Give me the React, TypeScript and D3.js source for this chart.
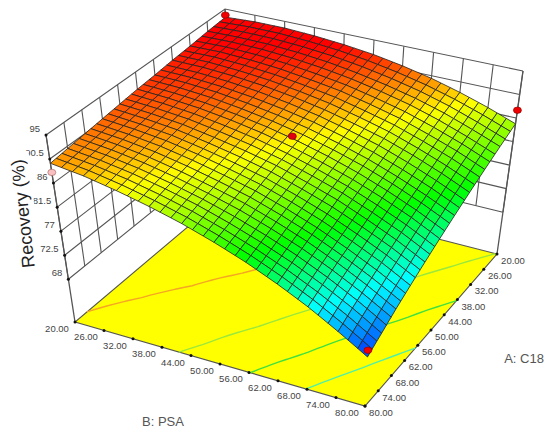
import React, { useEffect, useRef } from "react";
import * as d3 from "d3";

// axis ticks
const aTicks = [20, 26, 32, 38, 44, 50, 56, 62, 68, 74, 80];
const bTicks = [20, 26, 32, 38, 44, 50, 56, 62, 68, 74, 80];
const zTicks = [95, 90.5, 86, 81.5, 77, 72.5, 68];
const contourLevels = [75, 80, 85, 90];
const contourColors = ["#4ff0a8", "#3fe03f", "#9be83c", "#f5a623"];

// recovery, one row per A tick, one column per B tick
const recoveryA20 = [93.4, 93.7, 93.7, 93.4, 92.9, 92.2, 91.2, 90.0, 88.5, 86.8, 84.9];
const recoveryA26 = [93.1, 93.2, 93.1, 92.7, 92.1, 91.2, 90.1, 88.8, 87.2, 85.3, 83.3];
const recoveryA32 = [92.7, 92.8, 92.5, 92.0, 91.2, 90.3, 89.0, 87.6, 85.8, 83.9, 81.7];
const recoveryA38 = [92.4, 92.3, 91.9, 91.3, 90.4, 89.3, 87.9, 86.4, 84.5, 82.4, 80.1];
const recoveryA44 = [92.0, 91.8, 91.3, 90.5, 89.5, 88.3, 86.8, 85.1, 83.1, 80.9, 78.5];
const recoveryA50 = [91.7, 91.3, 90.7, 89.8, 88.7, 87.3, 85.7, 83.9, 81.8, 79.5, 76.9];
const recoveryA56 = [91.3, 90.8, 90.1, 89.0, 87.8, 86.4, 84.6, 82.7, 80.4, 78.0, 75.3];
const recoveryA62 = [90.9, 90.3, 89.5, 88.3, 86.9, 85.4, 83.5, 81.4, 79.0, 76.5, 73.7];
const recoveryA68 = [90.5, 89.8, 88.8, 87.5, 86.0, 84.4, 82.4, 80.2, 77.7, 75.0, 72.1];
const recoveryA74 = [90.1, 89.3, 88.2, 86.8, 85.2, 83.3, 81.2, 78.9, 76.3, 73.5, 70.4];
const recoveryA80 = [89.7, 88.8, 87.5, 86.0, 84.3, 82.3, 80.1, 77.6, 74.9, 71.9, 68.8];
const recoveryRows = [
  recoveryA20, recoveryA26, recoveryA32, recoveryA38, recoveryA44, recoveryA50,
  recoveryA56, recoveryA62, recoveryA68, recoveryA74, recoveryA80,
];

// design points
const pointB = [20, 20, 80, 80, 50];
const pointA = [20, 80, 20, 80, 50];
const pointZ = [93.8, 88, 87.5, 70, 89.4];
const pointFill = ["#f00000", "#f8c0c0", "#f00000", "#f00000", "#e00010"];

const width = 550;
const height = 434;
const zFloor = 60;
const zTop = 95;
const subCells = 3; // mesh cells per tick interval

// screen position of the box corners, [B, A] = 20/80
const floorBox = { b20a20: [235, 187], b80a20: [497, 254], b80a80: [365, 406], b20a80: [75, 322] };
const topBox = { b20a20: [225, 9], b80a20: [523, 71], b80a80: [375, 211], b20a80: [46, 135] };

const uScale = d3.scaleLinear().domain([20, 80]).range([0, 1]);
const vScale = d3.scaleLinear().domain([20, 80]).range([0, 1]);
const wScale = d3.scaleLinear().domain([zFloor, zTop]).range([0, 1]);

const colorScale = d3
  .scaleLinear<string>()
  .domain([69.5, 74.5, 80.5, 87.5, 93])
  .range(["#0050ff", "#00ffff", "#00ff00", "#ffff00", "#ff0000"]);

const bilinear = (box: any, u: number, v: number, k: number) =>
  (1 - v) * ((1 - u) * box.b20a20[k] + u * box.b80a20[k]) +
  v * ((1 - u) * box.b20a80[k] + u * box.b80a80[k]);

const project = (b: number, a: number, z: number): [number, number] => {
  const u = uScale(b);
  const v = vScale(a);
  const w = wScale(z);
  return [
    bilinear(floorBox, u, v, 0) * (1 - w) + bilinear(topBox, u, v, 0) * w,
    bilinear(floorBox, u, v, 1) * (1 - w) + bilinear(topBox, u, v, 1) * w,
  ];
};

const rowScales = recoveryRows.map((row) => d3.scaleLinear().domain(bTicks).range(row));
const surfaceAt = (b: number, a: number) =>
  d3.scaleLinear().domain(aTicks).range(rowScales.map((s) => s(b)))(a);

const App = () => {
  const svgRef = useRef<SVGSVGElement>(null);

  useEffect(() => {
    const svg = d3.select(svgRef.current);
    svg.selectAll("*").remove();

    const line = d3.line();
    const axisColor = "#555";

    // walls
    const walls = svg.append("g").attr("fill", "none").attr("stroke", axisColor).attr("stroke-width", 1.1);
    aTicks.forEach((a) => {
      walls.append("path").attr("d", line([project(20, a, 68), project(20, a, zTop)]));
    });
    bTicks.forEach((b) => {
      walls.append("path").attr("d", line([project(b, 20, 68), project(b, 20, zTop)]));
    });
    zTicks.forEach((z) => {
      walls.append("path").attr("d", line([project(20, 80, z), project(20, 20, z), project(80, 20, z)]));
    });

    // floor
    svg
      .append("path")
      .attr("d", line([project(20, 20, zFloor), project(80, 20, zFloor), project(80, 80, zFloor), project(20, 80, zFloor)]) + "Z")
      .attr("fill", "#ffff00")
      .attr("stroke", axisColor)
      .attr("stroke-width", 1.1);

    // mesh nodes
    const meshB = d3.range((bTicks.length - 1) * subCells + 1).map((i) => 20 + (i * 6) / subCells);
    const meshA = d3.range((aTicks.length - 1) * subCells + 1).map((i) => 20 + (i * 6) / subCells);
    const n = meshB.length;
    const meshValues: number[] = [];
    meshA.forEach((a) => meshB.forEach((b) => meshValues.push(surfaceAt(b, a))));

    // contour lines on the floor
    const contours = d3.contours().size([n, n]).smooth(true).thresholds(contourLevels)(meshValues);
    const contourLine = d3
      .line<number[]>()
      .defined((p) => p[0] > 0 && p[0] < n && p[1] > 0 && p[1] < n)
      .x((p) => project(20 + (p[0] - 0.5) * (6 / subCells), 20 + (p[1] - 0.5) * (6 / subCells), zFloor)[0])
      .y((p) => project(20 + (p[0] - 0.5) * (6 / subCells), 20 + (p[1] - 0.5) * (6 / subCells), zFloor)[1]);
    contours.forEach((c, i) => {
      c.coordinates.forEach((poly) =>
        poly.forEach((ring) => {
          svg
            .append("path")
            .attr("d", contourLine(ring as number[][]))
            .attr("fill", "none")
            .attr("stroke", contourColors[i])
            .attr("stroke-width", 1.4);
        })
      );
    });

    // box edges
    const edges = svg.append("g").attr("fill", "none").attr("stroke", axisColor).attr("stroke-width", 1.3);
    edges.append("path").attr("d", line([project(20, 80, zFloor), project(20, 80, zTop)]));
    edges.append("path").attr("d", line([project(80, 20, zFloor), project(80, 20, zTop)]));

    // tick dots
    const dots = svg.append("g").attr("fill", "#111");
    bTicks.forEach((b) => {
      const [x, y] = project(b, 80, zFloor);
      dots.append("circle").attr("cx", x).attr("cy", y).attr("r", 1.5);
    });
    aTicks.forEach((a) => {
      const [x, y] = project(80, a, zFloor);
      dots.append("circle").attr("cx", x).attr("cy", y).attr("r", 1.5);
    });
    zTicks.forEach((z) => {
      const [x, y] = project(20, 80, z);
      dots.append("circle").attr("cx", x).attr("cy", y).attr("r", 1.5);
    });

    // tick labels
    const labels = svg
      .append("g")
      .attr("font-family", "'Liberation Sans', Arial, sans-serif")
      .attr("font-size", 9.5)
      .attr("fill", "#444")
      .attr("text-anchor", "middle");
    bTicks.forEach((b) => {
      const [x, y] = project(b, 80, zFloor);
      labels.append("text").attr("x", x - 18).attr("y", y + 10).text(b.toFixed(2));
    });
    aTicks.forEach((a) => {
      const [x, y] = project(80, a, zFloor);
      labels.append("text").attr("x", x + 16).attr("y", y + 10).text(a.toFixed(2));
    });
    zTicks.forEach((z) => {
      const [x, y] = project(20, 80, z);
      labels.append("text").attr("x", x - 6).attr("y", y - 3).attr("text-anchor", "end").text(z);
    });

    // surface
    const surface = svg.append("g").attr("stroke", "#222").attr("stroke-width", 0.8);
    for (let j = 0; j < n - 1; j++) {
      for (let i = 0; i < n - 1; i++) {
        const z00 = meshValues[j * n + i];
        const z10 = meshValues[j * n + i + 1];
        const z11 = meshValues[(j + 1) * n + i + 1];
        const z01 = meshValues[(j + 1) * n + i];
        surface
          .append("path")
          .attr(
            "d",
            line([
              project(meshB[i], meshA[j], z00),
              project(meshB[i + 1], meshA[j], z10),
              project(meshB[i + 1], meshA[j + 1], z11),
              project(meshB[i], meshA[j + 1], z01),
            ]) + "Z"
          )
          .attr("fill", colorScale((z00 + z10 + z11 + z01) / 4));
      }
    }

    // design points
    pointB.forEach((b, i) => {
      const [x, y] = project(b, pointA[i], pointZ[i]);
      svg
        .append("ellipse")
        .attr("cx", x)
        .attr("cy", y)
        .attr("rx", 4)
        .attr("ry", 3.2)
        .attr("fill", pointFill[i])
        .attr("stroke", i === 1 ? "#a06060" : "#800000")
        .attr("stroke-width", 0.6);
    });

    // the y title sits on a white patch that cuts the labels next to it
    const yTitle = svg.append("g").attr("transform", "translate(29,213) rotate(-96)");
    yTitle.append("rect").attr("x", -56).attr("y", -18).attr("width", 118).attr("height", 24).attr("fill", "#fff");
    yTitle
      .append("text")
      .attr("text-anchor", "middle")
      .attr("font-family", "'Liberation Sans', Arial, sans-serif")
      .attr("font-size", 18)
      .attr("fill", "#222")
      .text("Recovery (%)");

    const titles = svg
      .append("g")
      .attr("font-family", "'Liberation Sans', Arial, sans-serif")
      .attr("font-size", 13)
      .attr("fill", "#555")
      .attr("text-anchor", "middle");
    titles.append("text").attr("x", 163).attr("y", 426).text("B: PSA");
    titles.append("text").attr("x", 524).attr("y", 363).text("A: C18");
  }, []);

  return (
    <svg
      ref={svgRef}
      width={width}
      height={height}
      style={{ position: "fixed", left: 0, top: 0, background: "#fff" }}
    />
  );
};

export default App;
